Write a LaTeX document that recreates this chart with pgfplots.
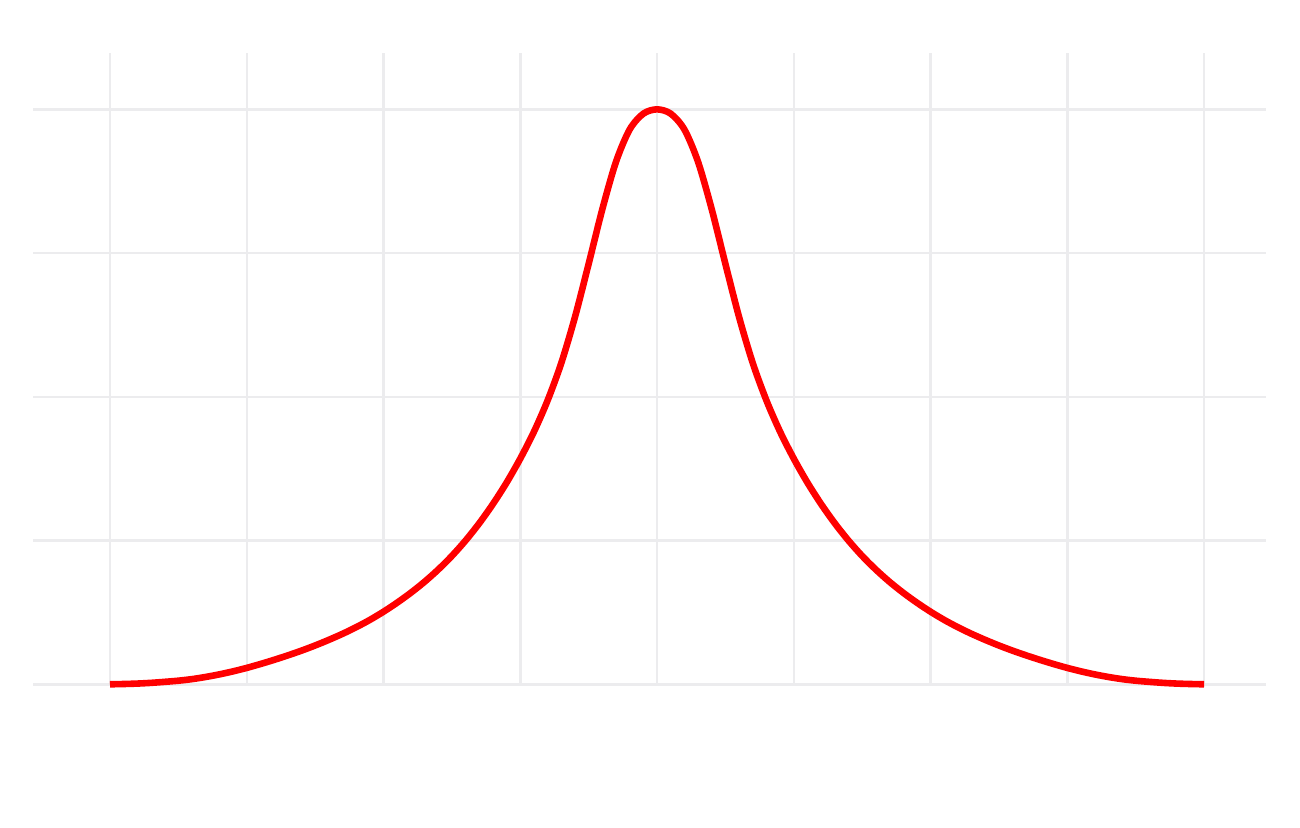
\documentclass[border=0pt]{standalone}
\usepackage{pgfplots}
\pgfplotsset{compat=1.18}
\usepackage{pgfplotstable}
\definecolor{gridc}{RGB}{236,236,238}
\definecolor{curvered}{RGB}{255,0,0}
\pgfplotstableread{
x y
-4.0 0.000
-3.9 0.002
-3.8 0.005
-3.7 0.010
-3.6 0.017
-3.5 0.025
-3.4 0.036
-3.3 0.051
-3.2 0.069
-3.1 0.090
-3.0 0.114
-2.9 0.141
-2.8 0.170
-2.7 0.201
-2.6 0.234
-2.5 0.270
-2.4 0.309
-2.3 0.351
-2.2 0.397
-2.1 0.448
-2.0 0.505
-1.9 0.568
-1.8 0.637
-1.7 0.713
-1.6 0.798
-1.5 0.893
-1.4 1.000
-1.3 1.120
-1.2 1.254
-1.1 1.403
-1.0 1.570
-0.9 1.757
-0.8 1.975
-0.7 2.235
-0.6 2.555
-0.5 2.925
-0.4 3.305
-0.3 3.635
-0.2 3.860
-0.1 3.970
0.0 4.000
0.1 3.970
0.2 3.860
0.3 3.635
0.4 3.305
0.5 2.925
0.6 2.555
0.7 2.235
0.8 1.975
0.9 1.757
1.0 1.570
1.1 1.403
1.2 1.254
1.3 1.120
1.4 1.000
1.5 0.893
1.6 0.798
1.7 0.713
1.8 0.637
1.9 0.568
2.0 0.505
2.1 0.448
2.2 0.397
2.3 0.351
2.4 0.309
2.5 0.270
2.6 0.234
2.7 0.201
2.8 0.170
2.9 0.141
3.0 0.114
3.1 0.090
3.2 0.069
3.3 0.051
3.4 0.036
3.5 0.025
3.6 0.017
3.7 0.010
3.8 0.005
3.9 0.002
4.0 0.000
}\curvedata
\begin{document}
\begin{tikzpicture}[x=1pt,y=1pt]
\path[use as bounding box] (0,0) rectangle (650,414);
\begin{axis}[
  at={(16.5pt,71.85pt)}, anchor=south west,
  scale only axis, width=616.5pt, height=315.5pt,
  xmin=-4.563, xmax=4.453, ymin=0, ymax=4.39,
  xtick={-4,-3,-2,-1,0,1,2,3,4}, ytick={0,1,2,3,4},
  xticklabels={}, yticklabels={},
  axis line style={draw=none}, tick style={draw=none},
  grid=major, major grid style={draw=gridc, line width=1.25pt},
  clip=false,
]
\addplot[curvered, line width=3.3pt, smooth, line join=round] table[x=x,y=y] {\curvedata};
\end{axis}
\end{tikzpicture}
\end{document}
